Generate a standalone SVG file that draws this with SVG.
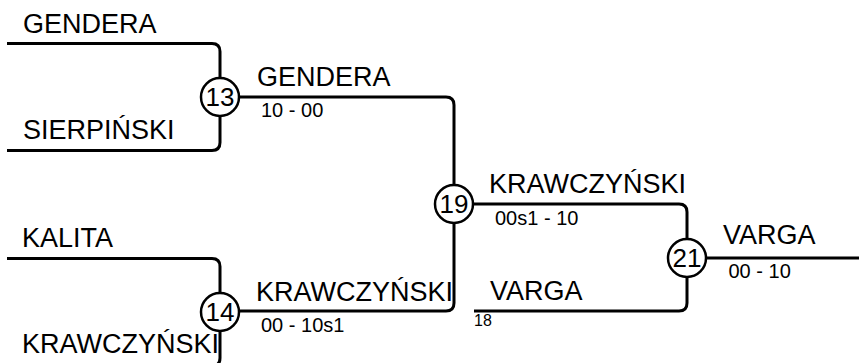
<svg xmlns="http://www.w3.org/2000/svg" width="859" height="363" viewBox="0 0 859 363">
<style>
  .ln { fill: none; stroke: #000; stroke-width: 3; }
  .node circle { fill: #fff; stroke: #000; stroke-width: 2.5; }
  .num { font-family: "Liberation Sans", Arial, sans-serif; font-size: 26px; text-anchor: middle; fill: #000; }
  .name { font-family: "Liberation Sans", Arial, sans-serif; font-size: 27px; fill: #000; }
  .score { font-family: "Liberation Sans", Arial, sans-serif; font-size: 20px; fill: #000; }
  .seed { font-family: "Liberation Sans", Arial, sans-serif; font-size: 16px; fill: #000; }
</style>
<rect width="859" height="363" fill="#fff"/>
<g id="connectors">
  <path class="ln" d="M7,43.5 H212 Q220,43.5 220,51.5 V78"/>
  <path class="ln" d="M7,150.5 H212 Q220,150.5 220,142.5 V116"/>
  <path class="ln" d="M7,258.5 H212 Q220,258.5 220,266.5 V293"/>
  <path class="ln" d="M7,366 H212 Q220,366 220,358 V331"/>
  <path class="ln" d="M239,97 H446 Q454,97 454,105 V185"/>
  <path class="ln" d="M239,311 H446 Q454,311 454,303 V223"/>
  <path class="ln" d="M473,204 H679 Q687,204 687,212 V239"/>
  <path class="ln" d="M474,311 H679 Q687,311 687,303 V277"/>
  <path class="ln" d="M706,258 H859"/>
</g>
<g id="labels">
  <text class="name" x="23" y="33">GENDERA</text>
  <text class="name" x="23" y="139">SIERPIŃSKI</text>
  <text class="name" x="22" y="247">KALITA</text>
  <text class="name" x="22" y="353">KRAWCZYŃSKI</text>
  <text class="name" x="257" y="86">GENDERA</text>
  <text class="score" x="261" y="116.5">10 - 00</text>
  <text class="name" x="256" y="300.5">KRAWCZYŃSKI</text>
  <text class="score" x="261" y="331.5">00 - 10s1</text>
  <text class="name" x="489" y="193">KRAWCZYŃSKI</text>
  <text class="score" x="495" y="224.5">00s1 - 10</text>
  <text class="name" x="490" y="300">VARGA</text>
  <text class="seed" x="474" y="325.5">18</text>
  <text class="name" x="723" y="244">VARGA</text>
  <text class="score" x="728.5" y="278">00 - 10</text>
</g>
<g id="node13" class="node"><circle cx="220" cy="97" r="19"/><text class="num" x="220" y="106">13</text></g>
<g id="node14" class="node"><circle cx="220" cy="312" r="19"/><text class="num" x="220" y="321">14</text></g>
<g id="node19" class="node"><circle cx="454" cy="204" r="19"/><text class="num" x="454" y="213">19</text></g>
<g id="node21" class="node"><circle cx="687" cy="258" r="19"/><text class="num" x="687" y="267">21</text></g>
</svg>
